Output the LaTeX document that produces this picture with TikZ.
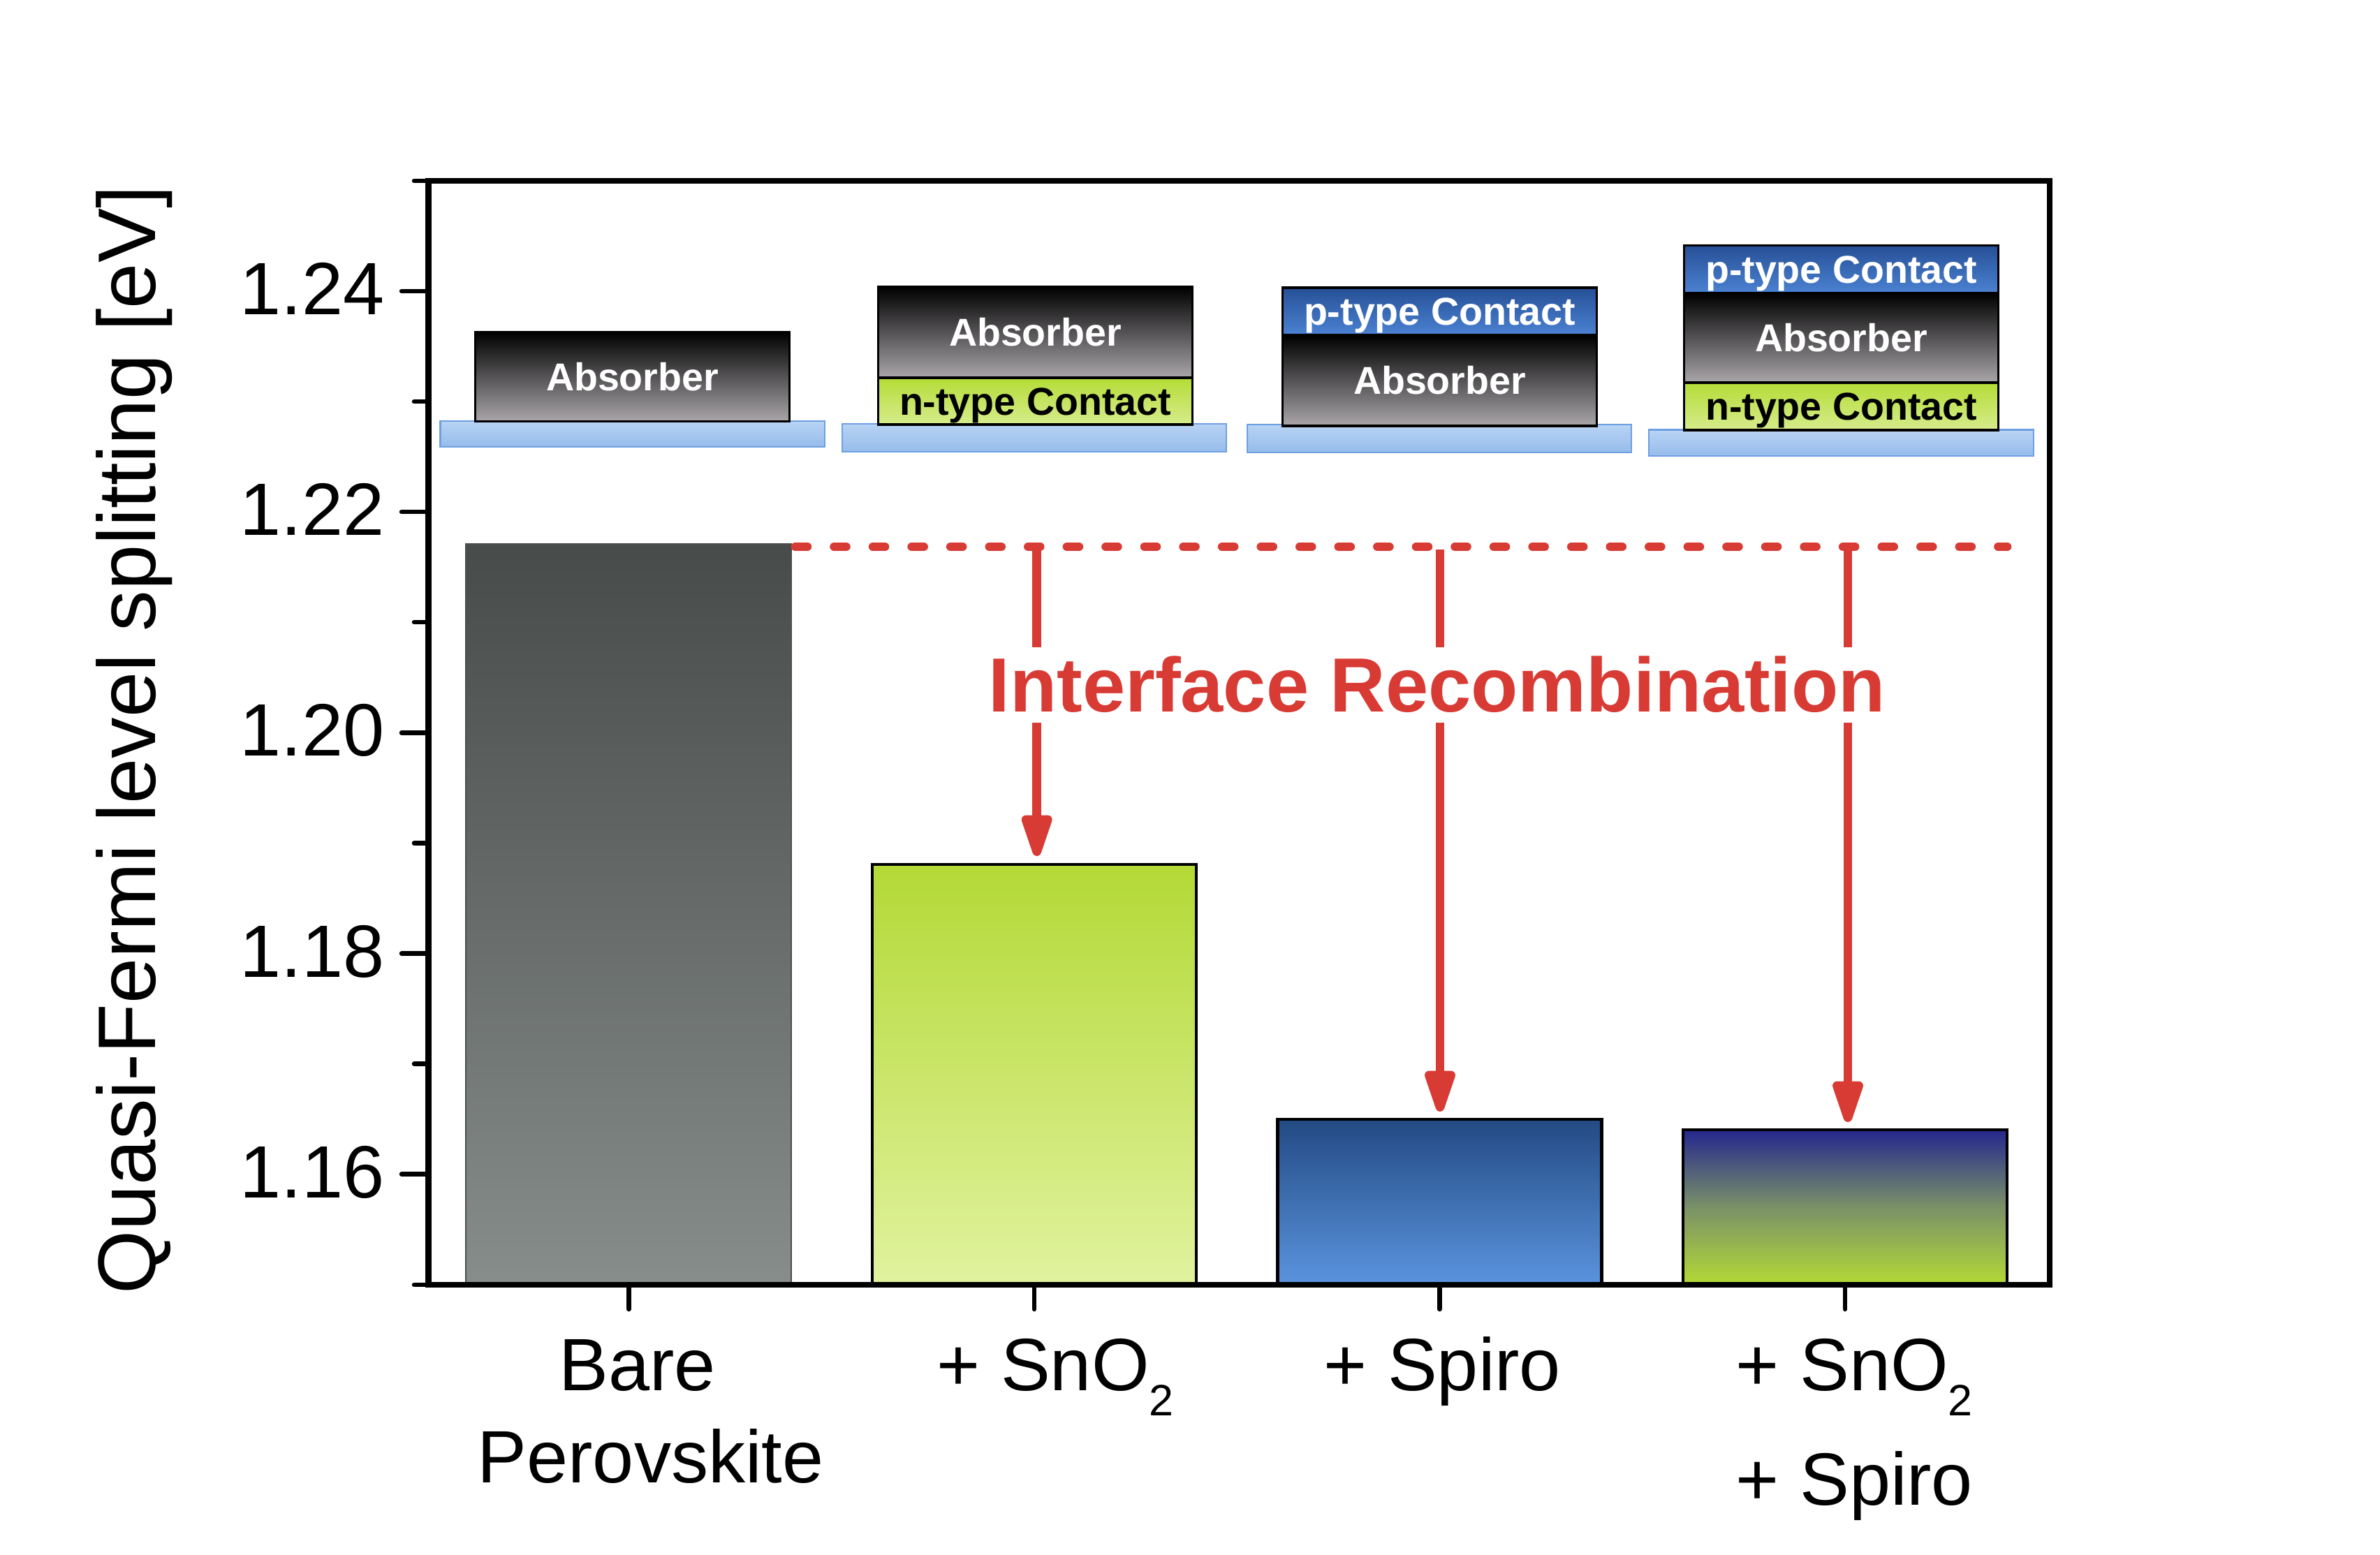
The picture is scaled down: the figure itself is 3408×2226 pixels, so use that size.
\documentclass[tikz,border=0pt]{standalone}
\usepackage{fontspec}
\setmainfont{Liberation Sans}
\usetikzlibrary{arrows.meta}
\definecolor{recred}{RGB}{216,59,52}
\definecolor{absbot}{RGB}{170,166,170}
\definecolor{ntop}{RGB}{181,220,55}
\definecolor{nbot}{RGB}{214,236,140}
\definecolor{ptop}{RGB}{38,80,150}
\definecolor{pbot}{RGB}{75,130,210}
\definecolor{subtop}{RGB}{184,211,244}
\definecolor{subbot}{RGB}{150,188,235}
\definecolor{subline}{RGB}{110,160,225}
\definecolor{baronetop}{RGB}{71,75,74}
\definecolor{baronebot}{RGB}{135,141,139}
\definecolor{baroneline}{RGB}{75,78,77}
\definecolor{bartwotop}{RGB}{179,217,54}
\definecolor{bartwobot}{RGB}{225,242,158}
\definecolor{barthreetop}{RGB}{35,74,131}
\definecolor{barthreebot}{RGB}{90,148,222}
\definecolor{barfourtop}{RGB}{37,39,142}
\definecolor{barfourmid}{RGB}{122,145,104}
\definecolor{barfourbot}{RGB}{179,217,54}
\newcommand\boxfont{\fontsize{15.8pt}{18pt}\selectfont\bfseries}
\newcommand\axfont{\fontsize{30.2pt}{36pt}\selectfont}
\newcommand\subfont{\fontsize{17.9pt}{20pt}\selectfont}
\newcommand\ylabfont{\fontsize{33.3pt}{40pt}\selectfont}
\newcommand\irfont{\fontsize{31.3pt}{37pt}\selectfont\bfseries}
\begin{document}
\begin{tikzpicture}[x=0.01cm,y=-0.01cm,
  layer/.style={draw=black, line width=1pt, minimum width=4.5cm, inner sep=0pt, text height=11.3pt, text depth=0pt, font=\boxfont},
  absL/.style={layer, top color=black, bottom color=absbot, text=white},
  nL/.style={layer, top color=ntop, bottom color=nbot, text=black},
  pL/.style={layer, top color=ptop, bottom color=pbot, text=white},
  subst/.style={draw=subline, line width=0.6pt, top color=subtop, bottom color=subbot, minimum width=5.5cm, inner sep=0pt},
  axisline/.style={line width=2.28pt},
  tickline/.style={line width=1.85pt, line cap=round},
  ticklab/.style={font=\axfont, inner sep=0pt, anchor=base east},
  catlab/.style={font=\axfont, inner sep=0pt},
  redline/.style={recred, line width=3.6pt},
  redarrow/.style={redline, -{Triangle[length=21pt,width=12.8pt,round]}}
]
\fill[white] (0,0) rectangle (3408,2226);
\useasboundingbox (0,0) rectangle (3408,2226);

% bars
\shade[top color=baronetop, bottom color=baronebot] (667,779) rectangle (1133,1839);
\draw[baroneline, line width=0.6pt] (667,1839) -- (667,779) -- (1133,779) -- (1133,1839);
\shade[top color=bartwotop, bottom color=bartwobot] (1249,1238) rectangle (1713,1839);
\draw[black, line width=1.28pt] (1249,1839) -- (1249,1238) -- (1713,1238) -- (1713,1839);
\shade[top color=barthreetop, bottom color=barthreebot] (1829.5,1603) rectangle (2293.5,1839);
\draw[black, line width=1.28pt] (1829.5,1839) -- (1829.5,1603) -- (2293.5,1603) -- (2293.5,1839);
\shade[top color=barfourtop, bottom color=barfourbot, middle color=barfourmid] (2410,1618) rectangle (2874,1839);
\draw[black, line width=1.28pt] (2410,1839) -- (2410,1618) -- (2874,1618) -- (2874,1839);

% frame
\draw[axisline] (613.5,259) rectangle (2935,1839.5);
% y ticks
\foreach \v/\nm in {1.24/t124,1.22/t122,1.20/t120,1.18/t118,1.16/t116}{
  \pgfmathsetmacro\yy{259+(1.25-\v)*15808}
  \draw[tickline] (575,\yy) -- (613.5,\yy);
  \node[ticklab] (\nm) at (551,\yy+33.5) {\v};
}
\foreach \v in {1.25,1.23,1.21,1.19,1.17,1.15}{
  \pgfmathsetmacro\yy{259+(1.25-\v)*15808}
  \draw[tickline] (593,\yy) -- (613.5,\yy);
}
% x ticks
\foreach \xx in {900.5,1481,2061.5,2642}{
  \draw[tickline] (\xx,1839.5) -- (\xx,1875);
}

% category labels
\node[catlab, anchor=base] (c1a) at (912.5,1991) {Bare};
\node[catlab, anchor=base] (c1b) at (931.6,2123) {Perovskite};
\node[catlab, anchor=base west] (c2) at (1341,1991) {+ SnO\raisebox{-10.5pt}{\subfont 2}};
\node[catlab, anchor=base west] (c3) at (1895,1991) {+ Spiro};
\node[catlab, anchor=base west] (c4a) at (2485,1991) {+ SnO\raisebox{-10.5pt}{\subfont 2}};
\node[catlab, anchor=base west] (c4b) at (2485,2155) {+ Spiro};

% y label
\node[font=\ylabfont, inner sep=0pt, rotate=90, anchor=base] (ylab) at (222,1060) {Quasi-Fermi level splitting [eV]};

% substrates and layer stacks
\node[subst, minimum height=0.37cm] (s1) at (905.6,621.5) {};
\node[subst, minimum height=0.397cm] (s2) at (1481.2,626.85) {};
\node[subst, minimum height=0.397cm] (s3) at (2061,627.85) {};
\node[subst, minimum height=0.375cm] (s4) at (2636.5,634.25) {};

\node[absL, minimum height=1.28cm] (b1a) at (905.5,539.6) {Absorber};

\node[absL, minimum height=1.30cm] (b2a) at (1482.5,476) {Absorber};
\node[nL, minimum height=0.67cm] (b2n) at (1482.5,574.5) {n-type Contact};

\node[pL, minimum height=0.68cm] (b3p) at (2061.5,446) {p-type Contact};
\node[absL, minimum height=1.30cm] (b3a) at (2061.5,545) {Absorber};

\node[pL, minimum height=0.685cm] (b4p) at (2636.5,385.75) {p-type Contact};
\node[absL, minimum height=1.28cm] (b4a) at (2636.5,484) {Absorber};
\node[nL, minimum height=0.68cm] (b4n) at (2636.5,582) {n-type Contact};

% dashed reference line
\coordinate (d0) at (1139,783);
\coordinate (d1) at (2874,783);
\draw[redline, line cap=round, dash pattern=on 4.8pt off 11pt] (d0) -- (d1);

% arrows
\coordinate (a1s) at (1484.7,787);
\coordinate (a1e) at (1484.7,1226);
\coordinate (a2s) at (2062,787);
\coordinate (a2e) at (2062,1592);
\coordinate (a3s) at (2646,787);
\coordinate (a3e) at (2646,1607);
\draw[redarrow] (a1s) -- (a1e);
\draw[redarrow] (a2s) -- (a2e);
\draw[redarrow] (a3s) -- (a3e);

% label
\node[fill=white, inner xsep=4pt, inner ysep=0pt, text height=26.3pt, text depth=4.4pt, anchor=base, font=\irfont, text=recred] (ir) at (2057.7,1019.5) {Interface Recombination};
\end{tikzpicture}
\end{document}
